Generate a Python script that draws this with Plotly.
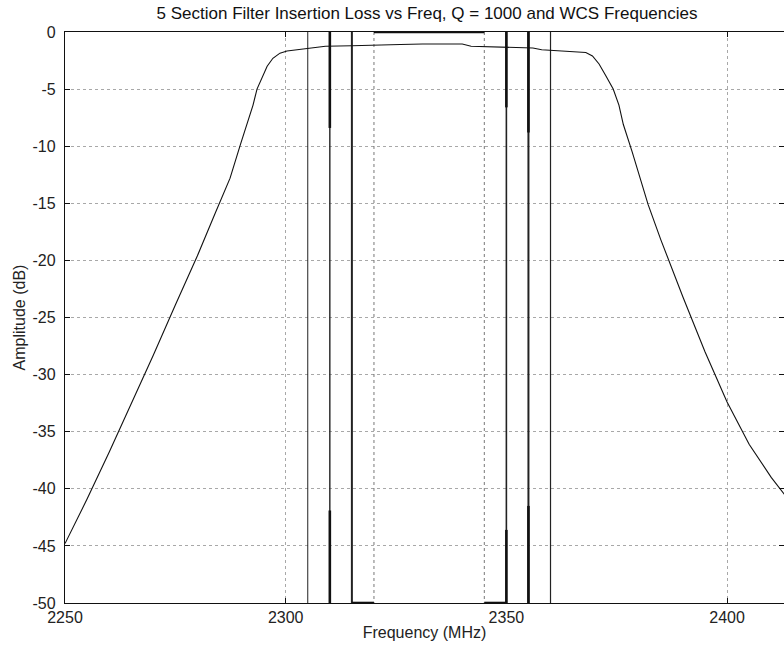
import plotly.graph_objects as go

# ---- data ----
freq_mhz = [2250, 2255, 2260, 2265, 2270, 2275, 2280, 2284, 2287.4, 2289.7, 2291.2,
            2292.6, 2293.5, 2294.9, 2295.8, 2297.1, 2298.7, 2300.3, 2303, 2305.5,
            2309, 2315, 2320, 2326, 2331, 2340, 2342, 2350, 2356, 2358, 2362, 2366,
            2368, 2369.5, 2371, 2372.5, 2374.2, 2375.5, 2376.5, 2378.5, 2380.3,
            2382.1, 2385, 2390, 2395, 2400, 2405, 2410, 2413]
loss_db = [-44.8, -40.9, -36.8, -32.6, -28.3, -23.9, -19.6, -15.9, -12.8, -9.9, -8.1,
           -6.4, -5.0, -3.8, -3.0, -2.3, -1.85, -1.66, -1.52, -1.43,
           -1.25, -1.2, -1.18, -1.1, -1.05, -1.05, -1.25, -1.37, -1.4, -1.55, -1.65, -1.72,
           -1.8, -2.1, -2.8, -3.8, -5.0, -6.4, -8.1, -10.5, -12.8,
           -15.1, -18.2, -23.2, -28.0, -32.4, -36.1, -39.0, -40.5]

wcs_solid_mhz = [2305, 2310, 2315, 2350, 2355, 2360]
wcs_dotted_mhz = [2320, 2345]
wcs_heavy_mhz = [2310, 2355, 2350]
wcs_heavy_top_db = [-8.4, -8.8, -6.6]
wcs_heavy_bottom_db = [-41.9, -41.5, -43.6]
floor_band_start_mhz = [2315, 2345]
floor_band_end_mhz = [2320, 2350]
ceil_band_start_mhz = [2320]
ceil_band_end_mhz = [2345]
top_db = 0
floor_db = -50

x_tick_vals = [2250, 2300, 2350, 2400]
x_tick_text = ["2250", "2300", "2350", "2400"]
y_tick_vals = [0, -5, -10, -15, -20, -25, -30, -35, -40, -45, -50]
y_tick_text = ["0", "-5", "-10", "-15", "-20", "-25", "-30", "-35", "-40", "-45", "-50"]

# ---- styles ----
solid_widths = [1, 1.4, 2, 1.6, 2, 1.2]
FONT = "Liberation Sans, Arial, sans-serif"

fig = go.Figure()

# WCS frequency lines
for f, w in zip(wcs_solid_mhz, solid_widths):
    fig.add_trace(go.Scatter(x=[f, f], y=[top_db, floor_db], mode="lines",
                             line=dict(color="#222", width=w), showlegend=False,
                             hoverinfo="skip"))
for f in wcs_dotted_mhz:
    fig.add_trace(go.Scatter(x=[f, f], y=[top_db, floor_db], mode="lines",
                             line=dict(color="#777", width=1, dash="dot"),
                             showlegend=False, hoverinfo="skip"))
hx, hy = [], []
for f, t, b in zip(wcs_heavy_mhz, wcs_heavy_top_db, wcs_heavy_bottom_db):
    hx += [f, f, None, f, f, None]
    hy += [top_db, t, None, b, floor_db, None]
for a, b in zip(floor_band_start_mhz, floor_band_end_mhz):
    hx += [a, b, None]
    hy += [floor_db, floor_db, None]
for a, b in zip(ceil_band_start_mhz, ceil_band_end_mhz):
    hx += [a, b, None]
    hy += [top_db, top_db, None]
fig.add_trace(go.Scatter(x=hx, y=hy, mode="lines", line=dict(color="#111", width=2.6),
                         showlegend=False, hoverinfo="skip", cliponaxis=False))

# Filter response
fig.add_trace(go.Scatter(x=freq_mhz, y=loss_db, mode="lines",
                         line=dict(color="#111", width=1.1), showlegend=False))

axis_common = dict(showline=True, linecolor="#111", linewidth=1.3, mirror="ticks",
                   ticks="inside", ticklen=5, tickcolor="#111", automargin=False,
                   showgrid=True, gridcolor="#a8a8a8", griddash="dot", gridwidth=1,
                   zeroline=False, tickfont=dict(family=FONT, size=16, color="#222"))

fig.update_layout(
    width=784, height=648,
    margin=dict(l=65, r=0, t=32, b=45),
    paper_bgcolor="white", plot_bgcolor="white",
    title=dict(text="5 Section Filter Insertion Loss vs Freq, Q = 1000 and WCS Frequencies",
               x=0.5035, xref="paper", xanchor="center",
               y=1 - 13 / 648, yref="container", yanchor="middle",
               font=dict(family=FONT, size=17, color="#111")),
    xaxis=dict(range=[2250, 2412.9], tickvals=x_tick_vals, ticktext=x_tick_text,
               **axis_common, ticklabelstandoff=0,
               title=dict(text="Frequency (MHz)", standoff=1,
                          font=dict(family=FONT, size=16, color="#222"))),
    yaxis=dict(range=[-50, 0], tickvals=y_tick_vals, ticktext=y_tick_text,
               **axis_common, ticklabelstandoff=5,
               title=dict(text="Amplitude (dB)", standoff=2,
                          font=dict(family=FONT, size=16, color="#222"))),
)

fig.write_html("out.html", config={"displayModeBar": False},
               post_script="document.body.style.margin='0';document.body.style.overflow='hidden';")
